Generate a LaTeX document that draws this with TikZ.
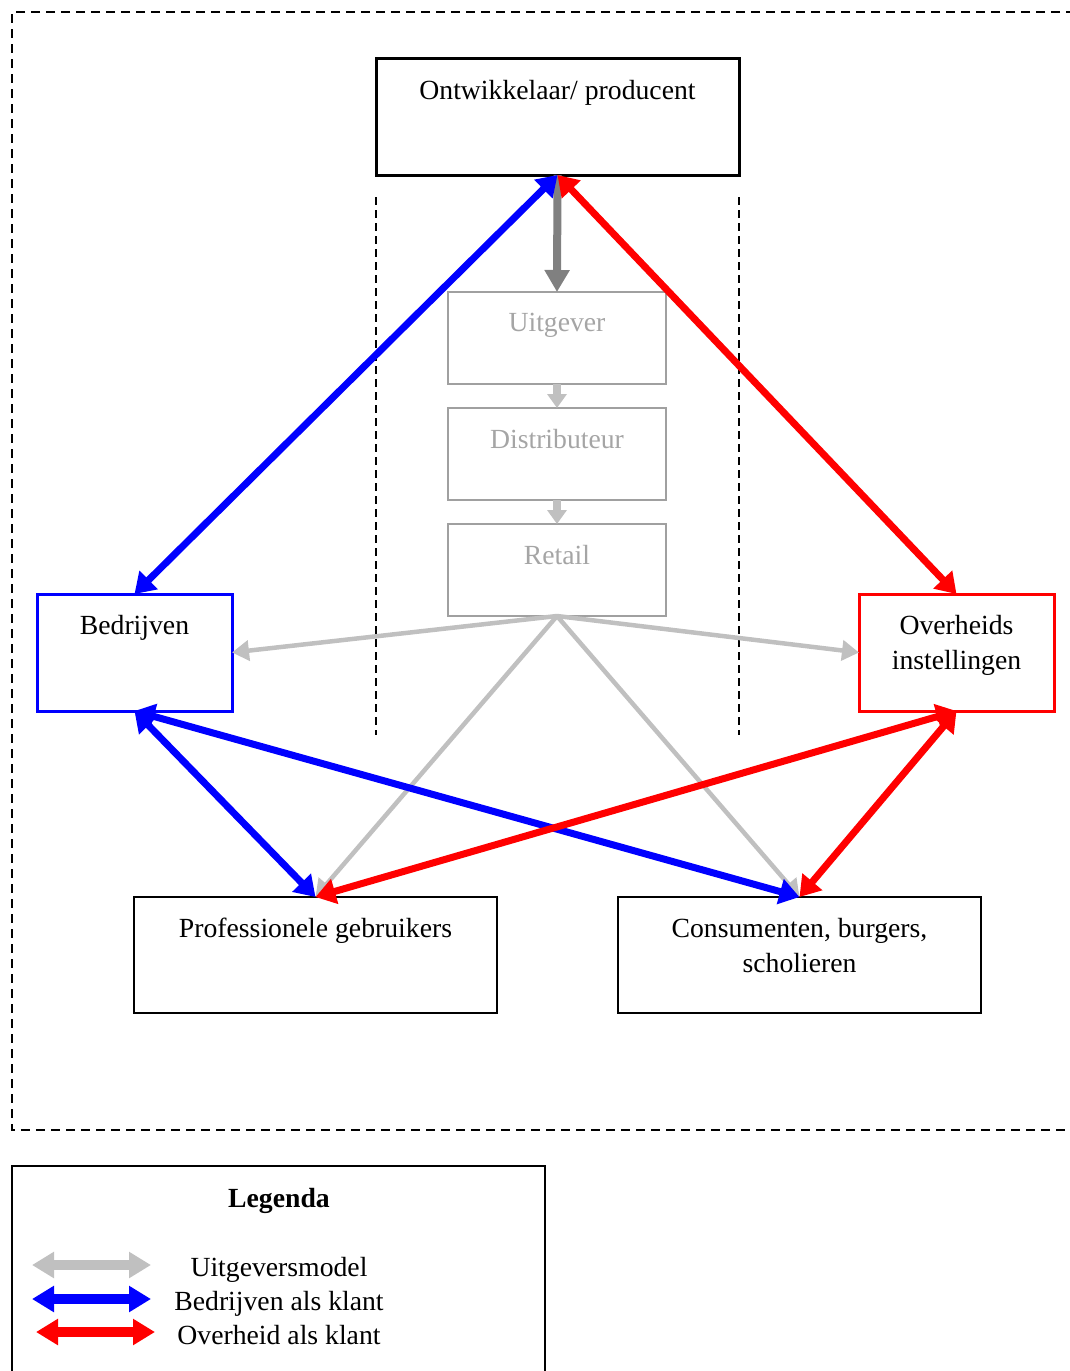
\documentclass[tikz,border=0pt]{standalone}
\usepackage{fontspec}
\setmainfont{Liberation Serif}
\usetikzlibrary{arrows.meta}
\definecolor{lgray}{RGB}{192,192,192}
\definecolor{dgray}{RGB}{128,128,128}
\definecolor{bgray}{RGB}{160,160,160}
\definecolor{tgray}{RGB}{165,165,165}
\begin{document}
\begin{tikzpicture}[x=1pt,y=-1pt,
  font=\fontsize{27.7}{35}\selectfont,
  box/.style={draw, rectangle, inner sep=0pt, outer sep=0pt, anchor=north west},
  toplabel/.style={anchor=north, inner sep=0pt, yshift=-21pt, align=center},
  greybox/.style={box, draw=bgray, line width=2pt, minimum width=218pt, minimum height=92pt},
  bluearr/.style={draw=blue, line width=7pt, {Triangle[length=20pt,width=25pt]}-{Triangle[length=20pt,width=25pt]}},
  redarr/.style={draw=red, line width=7pt, {Triangle[length=20pt,width=25pt]}-{Triangle[length=20pt,width=25pt]}},
  lgarr/.style={draw=lgray, line width=4.5pt, -{Triangle[length=17pt,width=20pt]}},
  smallarr/.style={draw=lgray, line width=8pt, -{Triangle[length=14pt,width=19pt]}},
  legarr/.style={line width=10pt, {Triangle[length=22pt,width=25pt]}-{Triangle[length=22pt,width=25pt]}},
  dashline/.style={line width=1.5pt, dash pattern=on 8pt off 5pt}
]
\useasboundingbox (0,0) rectangle (1070,1371);
% outer dashed frame
\draw[line width=1.5pt, dash pattern=on 9pt off 6pt] (1075,12) -- (12,12) -- (12,1130) -- (1075,1130);
% vertical dashed lines
\coordinate (vl1) at (376,197); \coordinate (vl2) at (376,735);
\coordinate (vr1) at (739,197); \coordinate (vr2) at (739,735);
\draw[dashline] (vl1) -- (vl2);
\draw[dashline] (vr1) -- (vr2);

% boxes
\node[box, line width=3pt, minimum width=363pt, minimum height=117pt,
  label={[toplabel, yshift=-1pt]north:Ontwikkelaar/ producent}] (dev) at (376,58) {};
\node[greybox, label={[toplabel, text=tgray]north:Uitgever}] (uit) at (448,292) {};
\node[greybox, label={[toplabel, text=tgray]north:Distributeur}] (dis) at (448,408) {};
\node[greybox, label={[toplabel, text=tgray]north:Retail}] (ret) at (448,524) {};
\node[box, draw=blue, line width=3pt, minimum width=195pt, minimum height=117pt,
  label={[toplabel]north:Bedrijven}] (bed) at (37,594) {};
\node[box, draw=red, line width=3pt, minimum width=195pt, minimum height=117pt,
  label={[toplabel]north:Overheids\\instellingen}] (ovh) at (859,594) {};
\node[box, line width=2pt, minimum width=363pt, minimum height=116pt,
  label={[toplabel]north:Professionele gebruikers}] (prof) at (134,897) {};
\node[box, line width=2pt, minimum width=363pt, minimum height=116pt,
  label={[toplabel]north:Consumenten, burgers,\\scholieren}] (cons) at (618,897) {};

% publisher chain
\draw[dgray, line width=8pt, -{Triangle[length=22pt,width=24pt]}] (dev.south) -- (uit.north);
\draw[smallarr] (uit.south) -- (dis.north);
\draw[smallarr] (dis.south) -- (ret.north);
\draw[lgarr] (ret.south) -- (bed.east);
\draw[lgarr] (ret.south) -- (ovh.west);
\draw[lgarr] (ret.south) -- (prof.north);
\draw[lgarr] (ret.south) -- (cons.north);

% blue and red relations
\draw[bluearr] (dev.south) -- (bed.north);
\draw[bluearr] (bed.south) -- (prof.north);
\draw[bluearr] (bed.south) -- (cons.north);
\draw[redarr] (dev.south) -- (ovh.north);
\draw[redarr] (ovh.south) -- (prof.north);
\draw[redarr] (ovh.south) -- (cons.north);

% legend
\node[box, line width=2pt, minimum width=533pt, minimum height=230pt] (leg) at (12,1166) {};
\node[anchor=base, font=\fontsize{27.7}{35}\selectfont\bfseries] (legt) at (279,1207) {Legenda};
\node[anchor=base] (lt1) at (279,1276) {Uitgeversmodel};
\node[anchor=base] (lt2) at (279,1310) {Bedrijven als klant};
\node[anchor=base] (lt3) at (279,1344) {Overheid als klant};
\coordinate (la1) at (32,1265); \coordinate (lb1) at (151,1265);
\coordinate (la2) at (32,1299); \coordinate (lb2) at (151,1299);
\coordinate (la3) at (36,1332); \coordinate (lb3) at (155,1332);
\draw[legarr, draw=lgray] (la1) -- (lb1);
\draw[legarr, draw=blue] (la2) -- (lb2);
\draw[legarr, draw=red] (la3) -- (lb3);
\end{tikzpicture}
\end{document}
